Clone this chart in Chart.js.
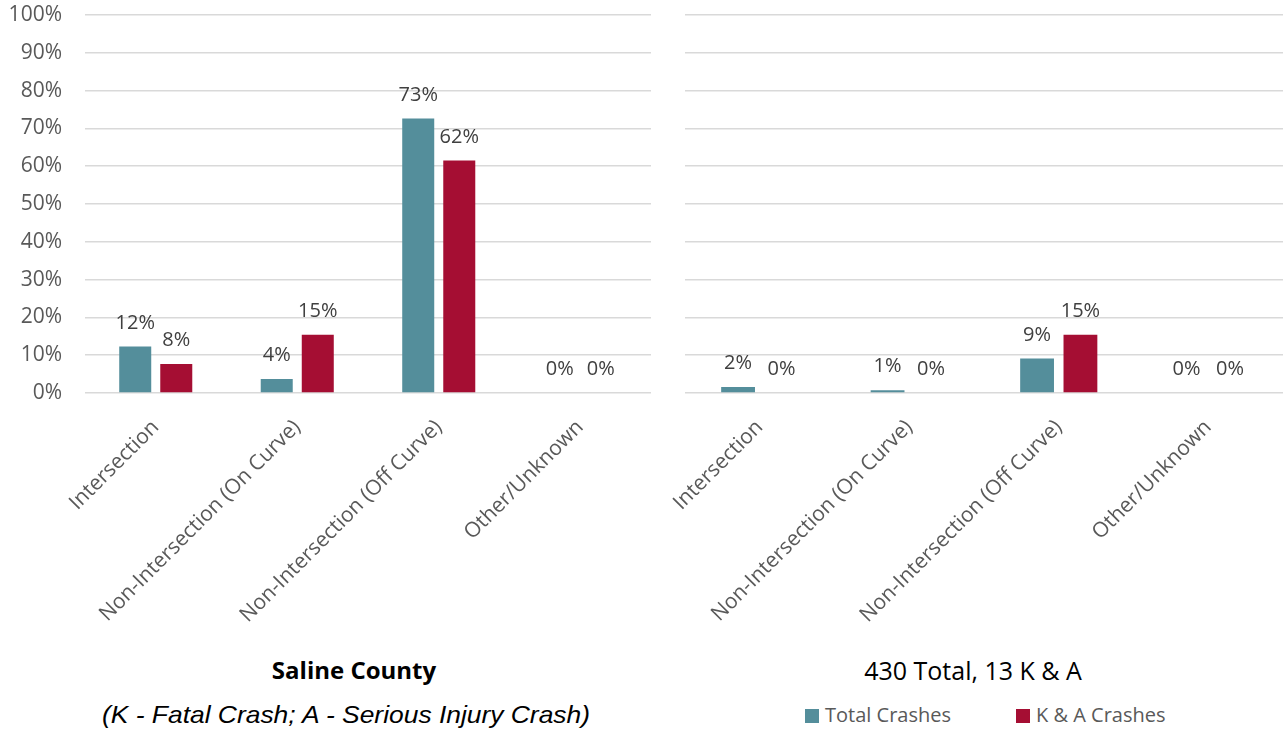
<!DOCTYPE html>
<html>
<head>
<meta charset="utf-8">
<script src="https://cdn.jsdelivr.net/npm/chart.js@4.4.1/dist/chart.umd.min.js"></script>
<style>
  body { margin: 0; background: #fff; }
  #wrap { position: relative; width: 1283px; height: 731px; overflow: hidden; font-family: "Open Sans", sans-serif; }
  .box { position: absolute; top: 0; height: 640px; }
  .txt { position: absolute; white-space: nowrap; line-height: 1; transform: translateX(-50%); }
  .legend .item { position: absolute; top: 705px; white-space: nowrap; font-size: 20px; line-height: 1; color: #595959; padding-left: 20px; }
  .legend .sw { position: absolute; left: 0; top: 4px; width: 14px; height: 14px; }
</style>
</head>
<body>
<div id="wrap">
  <div class="box" style="left:0; width:660px;"><canvas id="leftChart"></canvas></div>
  <div class="box" style="left:660px; width:623px;"><canvas id="rightChart"></canvas></div>
  <div class="txt" id="leftTitle" style="left:354px; top:658px; font-size:24px; font-weight:bold; color:#000;"></div>
  <div class="txt" id="leftNote" style="left:346px; top:703px; font-size:24px; font-style:italic; font-family:'Liberation Sans', Arial, sans-serif; color:#000; transform: translateX(-50%) scaleX(1.1);"></div>
  <div class="txt" id="rightTitle" style="left:973px; top:658px; font-size:25px; color:#000;"></div>
  <div class="legend" id="legend"></div>
</div>
<script>
const categories = ["Intersection", "Non-Intersection (On Curve)", "Non-Intersection (Off Curve)", "Other/Unknown"];
const seriesNames = ["Total Crashes", "K & A Crashes"];
const seriesColors = ["#548E9B", "#A50E33"];

// Saline County
const countyTotal = [12.3, 3.7, 72.6, 0];
const countyKA = [7.7, 15.4, 61.5, 0];

// right panel
const otherTotal = [1.6, 0.7, 9.1, 0];
const otherKA = [0, 0, 15.4, 0];

const yTicks = [0, 10, 20, 30, 40, 50, 60, 70, 80, 90, 100];

const leftTitle = "Saline County";
const leftNote = "(K - Fatal Crash; A - Serious Injury Crash)";
const rightTitle = "430 Total, 13 K & A";

Chart.defaults.font.family = '"Open Sans", sans-serif';
Chart.defaults.color = "#595959";

// value labels above the bars
const valueLabels = {
    id: 'valueLabels',
    afterDatasetsDraw(chart) {
        const ctx = chart.ctx;
        ctx.save();
        ctx.font = '20px "Open Sans", sans-serif';
        ctx.fillStyle = '#404040';
        ctx.textAlign = 'center';
        ctx.textBaseline = 'alphabetic';
        chart.data.datasets.forEach((ds, i) => {
            chart.getDatasetMeta(i).data.forEach((bar, j) => {
                ctx.fillText(Math.round(ds.data[j]) + '%', bar.x, bar.y - 18);
            });
        });
        ctx.restore();
    }
};

function makeChart(id, total, ka, showY, padLeft, padRight) {
    return new Chart(document.getElementById(id), {
        type: 'bar',
        data: {
            labels: categories,
            datasets: [
                { label: seriesNames[0], data: total, backgroundColor: seriesColors[0] },
                { label: seriesNames[1], data: ka, backgroundColor: seriesColors[1] }
            ]
        },
        options: {
            responsive: true,
            maintainAspectRatio: false,
            animation: false,
            categoryPercentage: 0.58,
            barPercentage: 0.78,
            layout: { padding: { top: 15, left: padLeft, right: padRight, bottom: 0 } },
            plugins: {
                legend: { display: false },
                tooltip: { enabled: false }
            },
            scales: {
                x: {
                    grid: { display: false },
                    border: { display: false },
                    ticks: {
                        autoSkip: false,
                        minRotation: 45,
                        maxRotation: 45,
                        padding: 14,
                        font: { size: 21 },
                        color: '#595959'
                    },
                    afterFit(axis) { axis.height = 247; }
                },
                y: {
                    min: 0,
                    max: 100,
                    afterBuildTicks(axis) { axis.ticks = yTicks.map(v => ({ value: v })); },
                    grid: { color: '#D9D9D9', lineWidth: 1.5, drawTicks: false },
                    border: { display: false },
                    ticks: {
                        display: showY,
                        padding: 23,
                        font: { size: 21 },
                        color: '#595959',
                        callback: v => v + '%'
                    },
                    afterFit(axis) {
                        if (showY) axis.width = 85;
                        axis.paddingTop = 0;
                        axis.paddingBottom = 0;
                    }
                }
            }
        },
        plugins: [valueLabels]
    });
}

makeChart('leftChart', countyTotal, countyKA, true, 0, 9);
makeChart('rightChart', otherTotal, otherKA, false, 25, 0);

document.getElementById('leftTitle').textContent = leftTitle;
document.getElementById('leftNote').textContent = leftNote;
document.getElementById('rightTitle').textContent = rightTitle;

const legendLefts = [805, 1016];
document.getElementById('legend').innerHTML = seriesNames.map((name, i) =>
    `<div class="item" style="left:${legendLefts[i]}px"><span class="sw" style="background:${seriesColors[i]}"></span>${name}</div>`
).join('');
</script>
</body>
</html>
